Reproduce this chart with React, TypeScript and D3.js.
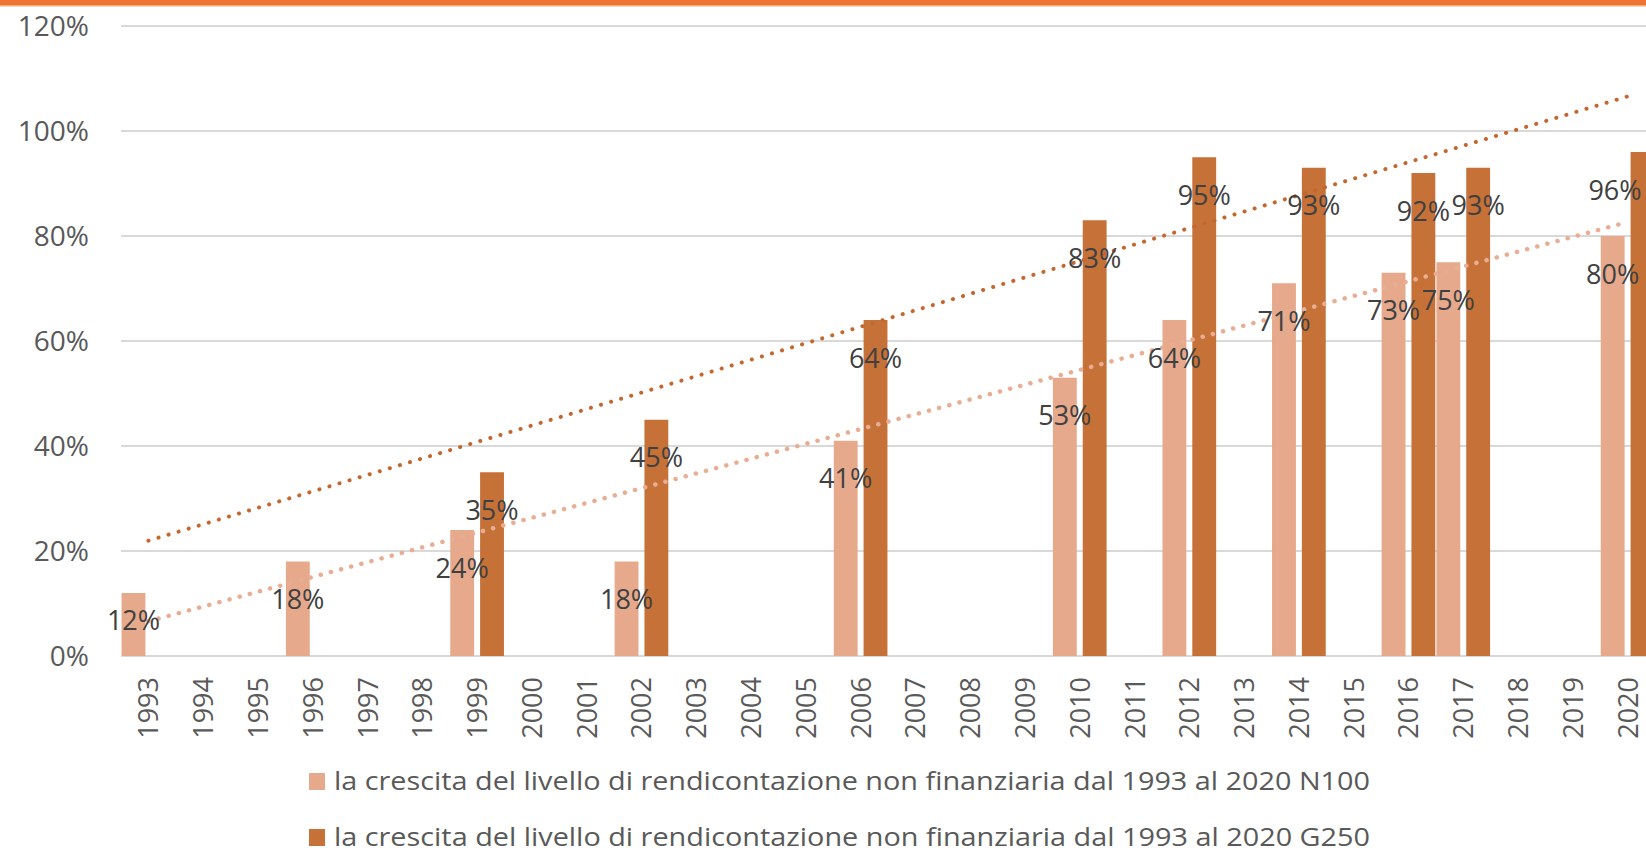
import * as d3 from "d3";
import { useEffect, useRef } from "react";

const years = [
  "1993", "1994", "1995", "1996", "1997", "1998", "1999", "2000", "2001", "2002",
  "2003", "2004", "2005", "2006", "2007", "2008", "2009", "2010", "2011", "2012",
  "2013", "2014", "2015", "2016", "2017", "2018", "2019", "2020",
];

// null = no survey that year
const n100: (number | null)[] = [
  12, null, null, 18, null, null, 24, null, null, 18,
  null, null, null, 41, null, null, null, 53, null, 64,
  null, 71, null, 73, 75, null, null, 80,
];

const g250: (number | null)[] = [
  null, null, null, null, null, null, 35, null, null, 45,
  null, null, null, 64, null, null, null, 83, null, 95,
  null, 93, null, 92, 93, null, null, 96,
];

const yTicks = [0, 20, 40, 60, 80, 100, 120];

const legendLabels = [
  "la crescita del livello di rendicontazione non finanziaria dal 1993 al 2020 N100",
  "la crescita del livello di rendicontazione non finanziaria dal 1993 al 2020 G250",
];

const COLORS = { n100: "#e6a98b", g250: "#c67137" };
const TREND = { n100: "#e8ae94", g250: "#c3672f" };

function linearFit(vals: (number | null)[]) {
  const pts = vals
    .map((v, i) => (v == null ? null : [i, v]))
    .filter((p): p is number[] => p !== null);
  const mx = d3.mean(pts, (p) => p[0]) as number;
  const my = d3.mean(pts, (p) => p[1]) as number;
  const sxy = d3.sum(pts, (p) => (p[0] - mx) * (p[1] - my));
  const sxx = d3.sum(pts, (p) => (p[0] - mx) ** 2);
  const slope = sxy / sxx;
  return { slope, intercept: my - slope * mx };
}

export default function App() {
  const svgRef = useRef<SVGSVGElement | null>(null);

  useEffect(() => {
    document.body.style.margin = "0";
    if (!svgRef.current) return;
    const width = 1646;
    const height = 857;
    const font = "'Open Sans', sans-serif";
    const svg = d3.select(svgRef.current);
    svg.selectAll("*").remove();
    svg.attr("width", width).attr("height", height).attr("viewBox", `0 0 ${width} ${height}`);

    svg.append("rect").attr("width", width).attr("height", height).attr("fill", "#fff");
    svg.append("rect").attr("width", width).attr("height", 5).attr("fill", "#ef7433");
    svg.append("rect").attr("y", 5).attr("width", width).attr("height", 1.5).attr("fill", "#f6a878");

    const x0 = d3.scaleBand<string>().domain(years).range([121, 1655]).paddingInner(0.02).paddingOuter(0.01);
    const x1 = d3.scaleBand<string>().domain(["n100", "g250"]).range([0, x0.bandwidth()]).paddingInner(0.2);
    const y = d3.scaleLinear().domain([0, 120]).range([656, 26]);

    // grid
    svg
      .append("g")
      .selectAll("line")
      .data(yTicks)
      .join("line")
      .attr("x1", 121)
      .attr("x2", width)
      .attr("y1", (d) => y(d))
      .attr("y2", (d) => y(d))
      .attr("stroke", "#d9d9d9")
      .attr("stroke-width", 2);

    svg
      .append("g")
      .selectAll("text")
      .data(yTicks)
      .join("text")
      .attr("x", 89)
      .attr("y", (d) => y(d))
      .attr("dy", "0.36em")
      .attr("text-anchor", "end")
      .attr("font-family", font)
      .attr("font-size", 28)
      .attr("fill", "#595959")
      .text((d) => `${d}%`);

    // x labels
    svg
      .append("g")
      .selectAll("text")
      .data(years)
      .join("text")
      .attr("transform", (d) => `translate(${(x0(d) as number) + x0.bandwidth() / 2 + 10},677) rotate(-90)`)
      .attr("text-anchor", "end")
      .attr("font-family", font)
      .attr("font-size", 27)
      .attr("fill", "#595959")
      .text((d) => d);

    const series = [
      { key: "n100", vals: n100 },
      { key: "g250", vals: g250 },
    ] as const;

    series.forEach((s) => {
      const pts = years
        .map((yr, i) => ({ yr, v: s.vals[i] }))
        .filter((p) => p.v != null) as { yr: string; v: number }[];
      svg
        .append("g")
        .selectAll("rect")
        .data(pts)
        .join("rect")
        .attr("x", (d) => (x0(d.yr) as number) + (x1(s.key) as number))
        .attr("y", (d) => y(d.v))
        .attr("width", x1.bandwidth())
        .attr("height", (d) => y(0) - y(d.v))
        .attr("fill", COLORS[s.key]);
    });

    // trendlines (linear fit over category index, drawn across the whole axis)
    series.forEach((s) => {
      const { slope, intercept } = linearFit(s.vals);
      const cx = (i: number) => (x0(years[i]) as number) + x0.bandwidth() / 2;
      const i0 = 0;
      const i1 = years.length - 1;
      svg
        .append("line")
        .attr("x1", cx(i0))
        .attr("y1", y(intercept + slope * i0))
        .attr("x2", cx(i1))
        .attr("y2", y(intercept + slope * i1))
        .attr("stroke", TREND[s.key])
        .attr("stroke-width", s.key === "n100" ? 4.5 : 4)
        .attr("stroke-linecap", "round")
        .attr("stroke-dasharray", "0.1 10.4");
    });

    // data labels
    series.forEach((s) => {
      const pts = years
        .map((yr, i) => ({ yr, v: s.vals[i] }))
        .filter((p) => p.v != null) as { yr: string; v: number }[];
      svg
        .append("g")
        .selectAll("text")
        .data(pts)
        .join("text")
        .attr("x", (d) =>
          Math.min((x0(d.yr) as number) + (x1(s.key) as number) + x1.bandwidth() / 2, width - 31)
        )
        .attr("y", (d) => Math.min(y(d.v) + 38, y(0) - 36))
        .attr("dy", "0.36em")
        .attr("text-anchor", "middle")
        .attr("font-family", font)
        .attr("font-size", 27)
        .attr("fill", "#404040")
        .text((d) => `${d.v}%`);
    });

    // legend
    const lg = svg.append("g");
    legendLabels.forEach((label, i) => {
      const cy = 781 + i * 56;
      lg.append("rect")
        .attr("x", 309)
        .attr("y", cy - 8)
        .attr("width", 16)
        .attr("height", 17)
        .attr("fill", i === 0 ? COLORS.n100 : COLORS.g250);
      lg.append("text")
        .attr("x", 334)
        .attr("y", cy)
        .attr("dy", "0.36em")
        .attr("font-family", font)
        .attr("font-size", 26)
        .attr("fill", "#595959")
        .attr("textLength", 1036)
        .attr("lengthAdjust", "spacingAndGlyphs")
        .text(label);
    });
  }, []);

  return (
    <div style={{ position: "absolute", left: 0, top: 0 }}>
      <svg ref={svgRef} style={{ display: "block", overflow: "hidden" }} />
    </div>
  );
}
